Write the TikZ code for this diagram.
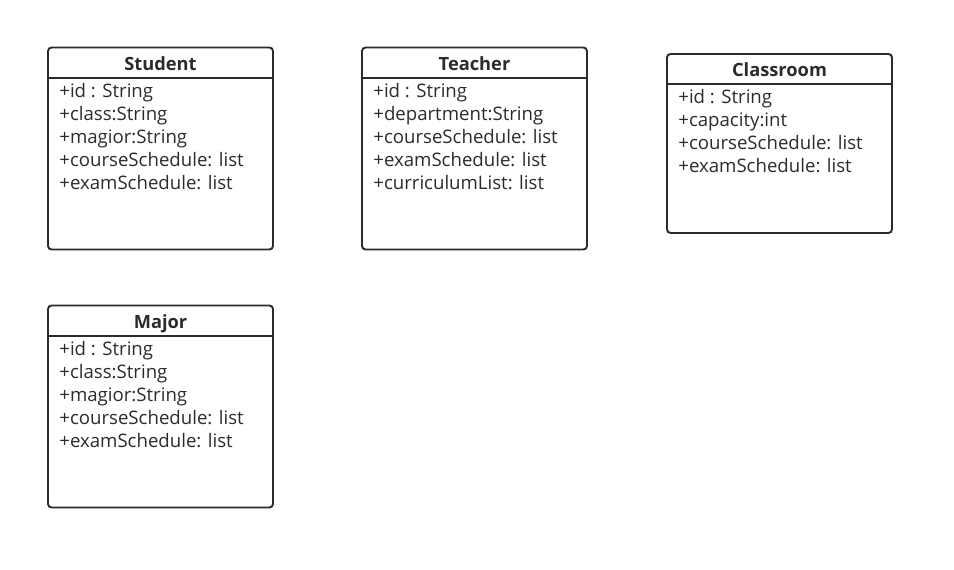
\documentclass[tikz,border=0pt]{standalone}
\usepackage{fontspec}
\setmainfont{Open Sans}
\usepackage{tikz}
\usetikzlibrary{positioning,calc}
\definecolor{umlgray}{HTML}{2B2B2B}

\begin{document}
\begin{tikzpicture}[x=0.02cm,y=-0.02cm,
  classbox/.style={draw=umlgray,line width=1.1pt,rounded corners=2pt,inner sep=0pt},
  classline/.style={draw=umlgray,line width=1.1pt},
  classname/.style={anchor=base,inner sep=0pt,text=umlgray,font=\fontsize{10.4}{12}\selectfont\bfseries},
  attr/.style={anchor=base west,inner sep=0pt,text=umlgray,font=\fontsize{10.6}{12}\selectfont}]

\useasboundingbox (0,0) rectangle (954,570);

% Student
\node[classbox,minimum width=4.5cm,minimum height=4.04cm] (student) at (160.5,148.5) {};
\node[classname] (studentT) at (160.5,71) {Student};
\draw[classline] (student.west |- 0,78) -- (student.east |- 0,78);
\node[attr] (s1) at (59,98) {+id : String};
\node[attr] (s2) at (59,121) {+class:String};
\node[attr] (s3) at (59,144) {+magior:String};
\node[attr] (s4) at (59,167) {+courseSchedule: list};
\node[attr] (s5) at (59,190) {+examSchedule: list};

% Teacher
\node[classbox,minimum width=4.5cm,minimum height=4.04cm] (teacher) at (474.5,148.5) {};
\node[classname] (teacherT) at (474.5,71) {Teacher};
\draw[classline] (teacher.west |- 0,78) -- (teacher.east |- 0,78);
\node[attr] (t1) at (373,98) {+id : String};
\node[attr] (t2) at (373,121) {+department:String};
\node[attr] (t3) at (373,144) {+courseSchedule: list};
\node[attr] (t4) at (373,167) {+examSchedule: list};
\node[attr] (t5) at (373,190) {+curriculumList: list};

% Classroom
\node[classbox,minimum width=4.5cm,minimum height=3.58cm] (classroom) at (779.5,143.5) {};
\node[classname] (classroomT) at (779.5,77) {Classroom};
\draw[classline] (classroom.west |- 0,84) -- (classroom.east |- 0,84);
\node[attr] (c1) at (678,104) {+id : String};
\node[attr] (c2) at (678,127) {+capacity:int};
\node[attr] (c3) at (678,150) {+courseSchedule: list};
\node[attr] (c4) at (678,173) {+examSchedule: list};

% Major
\node[classbox,minimum width=4.5cm,minimum height=4.04cm] (major) at (160.5,406.5) {};
\node[classname] (majorT) at (160.5,329) {Major};
\draw[classline] (major.west |- 0,336) -- (major.east |- 0,336);
\node[attr] (m1) at (59,356) {+id : String};
\node[attr] (m2) at (59,379) {+class:String};
\node[attr] (m3) at (59,402) {+magior:String};
\node[attr] (m4) at (59,425) {+courseSchedule: list};
\node[attr] (m5) at (59,448) {+examSchedule: list};
\end{tikzpicture}
\end{document}
